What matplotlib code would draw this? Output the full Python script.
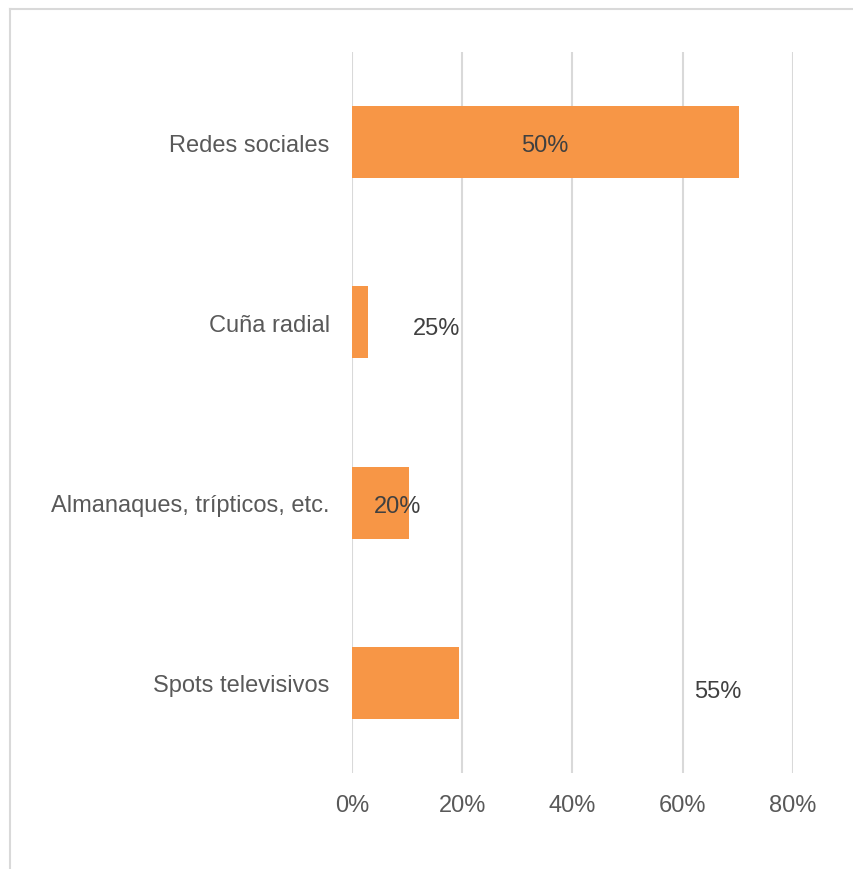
import matplotlib
matplotlib.use("Agg")
import matplotlib.pyplot as plt

categories = ["Redes sociales", "Cuña radial", "Almanaques, trípticos, etc.", "Spots televisivos"]
bar_values = [70.2, 2.9, 10.3, 19.4]
label_texts = ["50%", "25%", "20%", "55%"]
label_x = [35.0, 15.4, 8.2, 66.4]
label_dy = [-0.015, -0.03, -0.02, -0.045]
ticks = [0, 20, 40, 60, 80]

plt.rcParams['font.family'] = ['Liberation Sans', 'DejaVu Sans']

fig = plt.figure(figsize=(8.54, 8.70), dpi=100)
ax = fig.add_axes([352 / 854, 1 - 774 / 870, (793 - 352) / 854, (774 - 53) / 870])

y = list(range(len(categories)))
ax.barh(y, bar_values, height=0.4, color="#F79646", zorder=3)
for yi, lx, t, dy in zip(y, label_x, label_texts, label_dy):
    ax.text(lx, yi - dy, t, ha="center", va="center", fontsize=17, color="#404040", zorder=4)

ax.set_ylim(len(categories) - 0.5, -0.5)
ax.set_xlim(0, 80)
ax.set_xticks(ticks)
ax.set_xticklabels([f"{t}%" for t in ticks], fontsize=17, color="#595959")
ax.set_yticks(y)
ax.set_yticklabels(categories, fontsize=17, color="#595959")
ax.tick_params(axis="both", length=0)
ax.tick_params(axis="x", pad=15)
ax.tick_params(axis="y", pad=16)
ax.grid(axis="x", color="#D9D9D9", linewidth=1.5, zorder=0)
for s in ax.spines.values():
    s.set_visible(False)

# outer border (left and top only visible)
fig.add_artist(plt.Line2D([10 / 854, 10 / 854], [0, 1 - 10 / 870], color="#D9D9D9", lw=1.5))
fig.add_artist(plt.Line2D([10 / 854, 1], [1 - 10 / 870, 1 - 10 / 870], color="#D9D9D9", lw=1.5))

fig.savefig("out.png", dpi=100)
